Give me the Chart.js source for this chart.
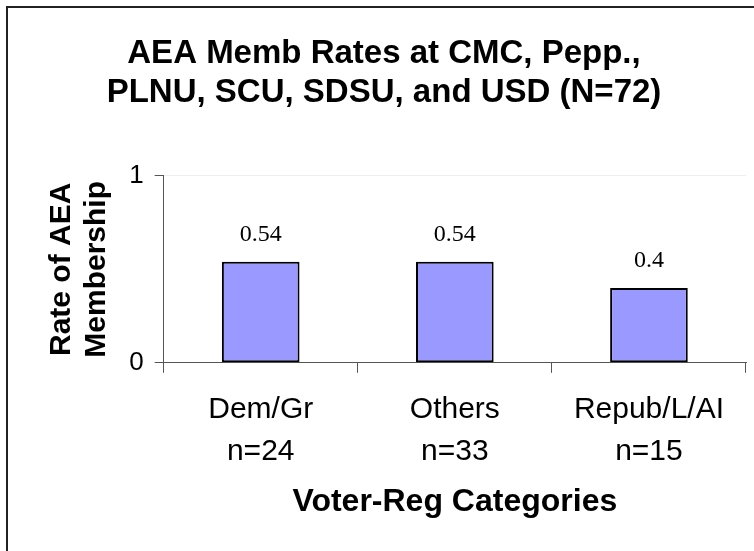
<!DOCTYPE html>
<html>
<head>
<meta charset="utf-8">
<script src="https://cdn.jsdelivr.net/npm/chart.js@4.4.1/dist/chart.umd.min.js"></script>
<style>
    html, body { margin: 0; padding: 0; background: #fff; }
    #wrap { width: 754px; height: 551px; }
</style>
</head>
<body>
<div id="wrap"><canvas id="myChart" width="754" height="551"></canvas></div>
<script>
// chart data
const categories = [["Dem/Gr", "n=24"], ["Others", "n=33"], ["Repub/L/AI", "n=15"]];
const memberRates = [0.54, 0.54, 0.4];
const yTickValues = [0, 1];

const chartTitle = ["AEA Memb Rates at CMC, Pepp.,", "PLNU, SCU, SDSU, and USD (N=72)"];
const yTitle = ["Rate of AEA", "Membership"];
const xTitle = "Voter-Reg Categories";

const sansFont = "'Liberation Sans', Arial, sans-serif";
const serifFont = "'Liberation Serif', 'Times New Roman', serif";

// white background and the frame along the top and left edges
const framePlugin = {
    id: "frame",
    beforeDraw(chart) {
        const ctx = chart.ctx;
        ctx.save();
        ctx.fillStyle = "#fff";
        ctx.fillRect(0, 0, chart.width, chart.height);
        ctx.strokeStyle = "#222";
        ctx.lineWidth = 2;
        ctx.beginPath();
        ctx.moveTo(7, chart.height);
        ctx.lineTo(7, 7);
        ctx.lineTo(chart.width, 7);
        ctx.stroke();
        ctx.restore();
    }
};

// value labels above each bar
const valueLabels = {
    id: "valueLabels",
    afterDatasetsDraw(chart) {
        const ctx = chart.ctx;
        const meta = chart.getDatasetMeta(0);
        ctx.save();
        ctx.font = "24px " + serifFont;
        ctx.fillStyle = "#000";
        ctx.textAlign = "center";
        ctx.textBaseline = "middle";
        meta.data.forEach((bar, i) => {
            ctx.fillText(String(chart.data.datasets[0].data[i]), bar.x, bar.y - 27);
        });
        ctx.restore();
    }
};

const ctx = document.getElementById("myChart");

// note: chart.js counts tick padding twice when sizing an axis
const chart = new Chart(ctx, {
    type: "bar",
    data: {
        labels: categories,
        datasets: [{
            data: memberRates,
            backgroundColor: "#9999ff",
            borderColor: "#000",
            borderWidth: 2,
            borderSkipped: false,
            barPercentage: 0.4,
            categoryPercentage: 1.0
        }]
    },
    options: {
        responsive: false,
        animation: false,
        devicePixelRatio: 1,
        layout: { padding: { top: 0, left: 22, right: 8, bottom: 0 } },
        plugins: {
            legend: { display: false },
            tooltip: { enabled: false },
            title: {
                display: true,
                text: chartTitle,
                color: "#000",
                font: { family: sansFont, size: 33, weight: "bold", lineHeight: 1.18 },
                padding: { top: 34, bottom: 64 }
            }
        },
        scales: {
            x: {
                offset: true,
                border: { color: "#555", width: 1 },
                grid: {
                    offset: true,
                    drawOnChartArea: false,
                    tickLength: 10,
                    tickColor: "#555"
                },
                ticks: {
                    color: "#000",
                    padding: 16,
                    maxRotation: 0,
                    font: { family: sansFont, size: 30, lineHeight: 1.4 }
                },
                title: {
                    display: true,
                    text: xTitle,
                    color: "#000",
                    font: { family: sansFont, size: 32, weight: "bold", lineHeight: 0.85 },
                    padding: { top: 0, bottom: 35 }
                }
            },
            y: {
                min: 0,
                max: 1,
                border: { color: "#555", width: 1 },
                grid: {
                    color: c => (c.tick && c.tick.value === 1 ? "#eeeeee" : "rgba(0,0,0,0)"),
                    tickLength: 9,
                    tickColor: "#555"
                },
                afterBuildTicks: axis => {
                    axis.ticks = yTickValues.map(v => ({ value: v }));
                },
                ticks: {
                    color: "#000",
                    padding: 11,
                    font: { family: sansFont, size: 26 }
                },
                title: {
                    display: true,
                    text: yTitle,
                    color: "#000",
                    font: { family: sansFont, size: 30, weight: "bold", lineHeight: 1.17 },
                    padding: { top: 22, bottom: 4 }
                }
            }
        }
    },
    plugins: [framePlugin, valueLabels]
});
</script>
</body>
</html>
